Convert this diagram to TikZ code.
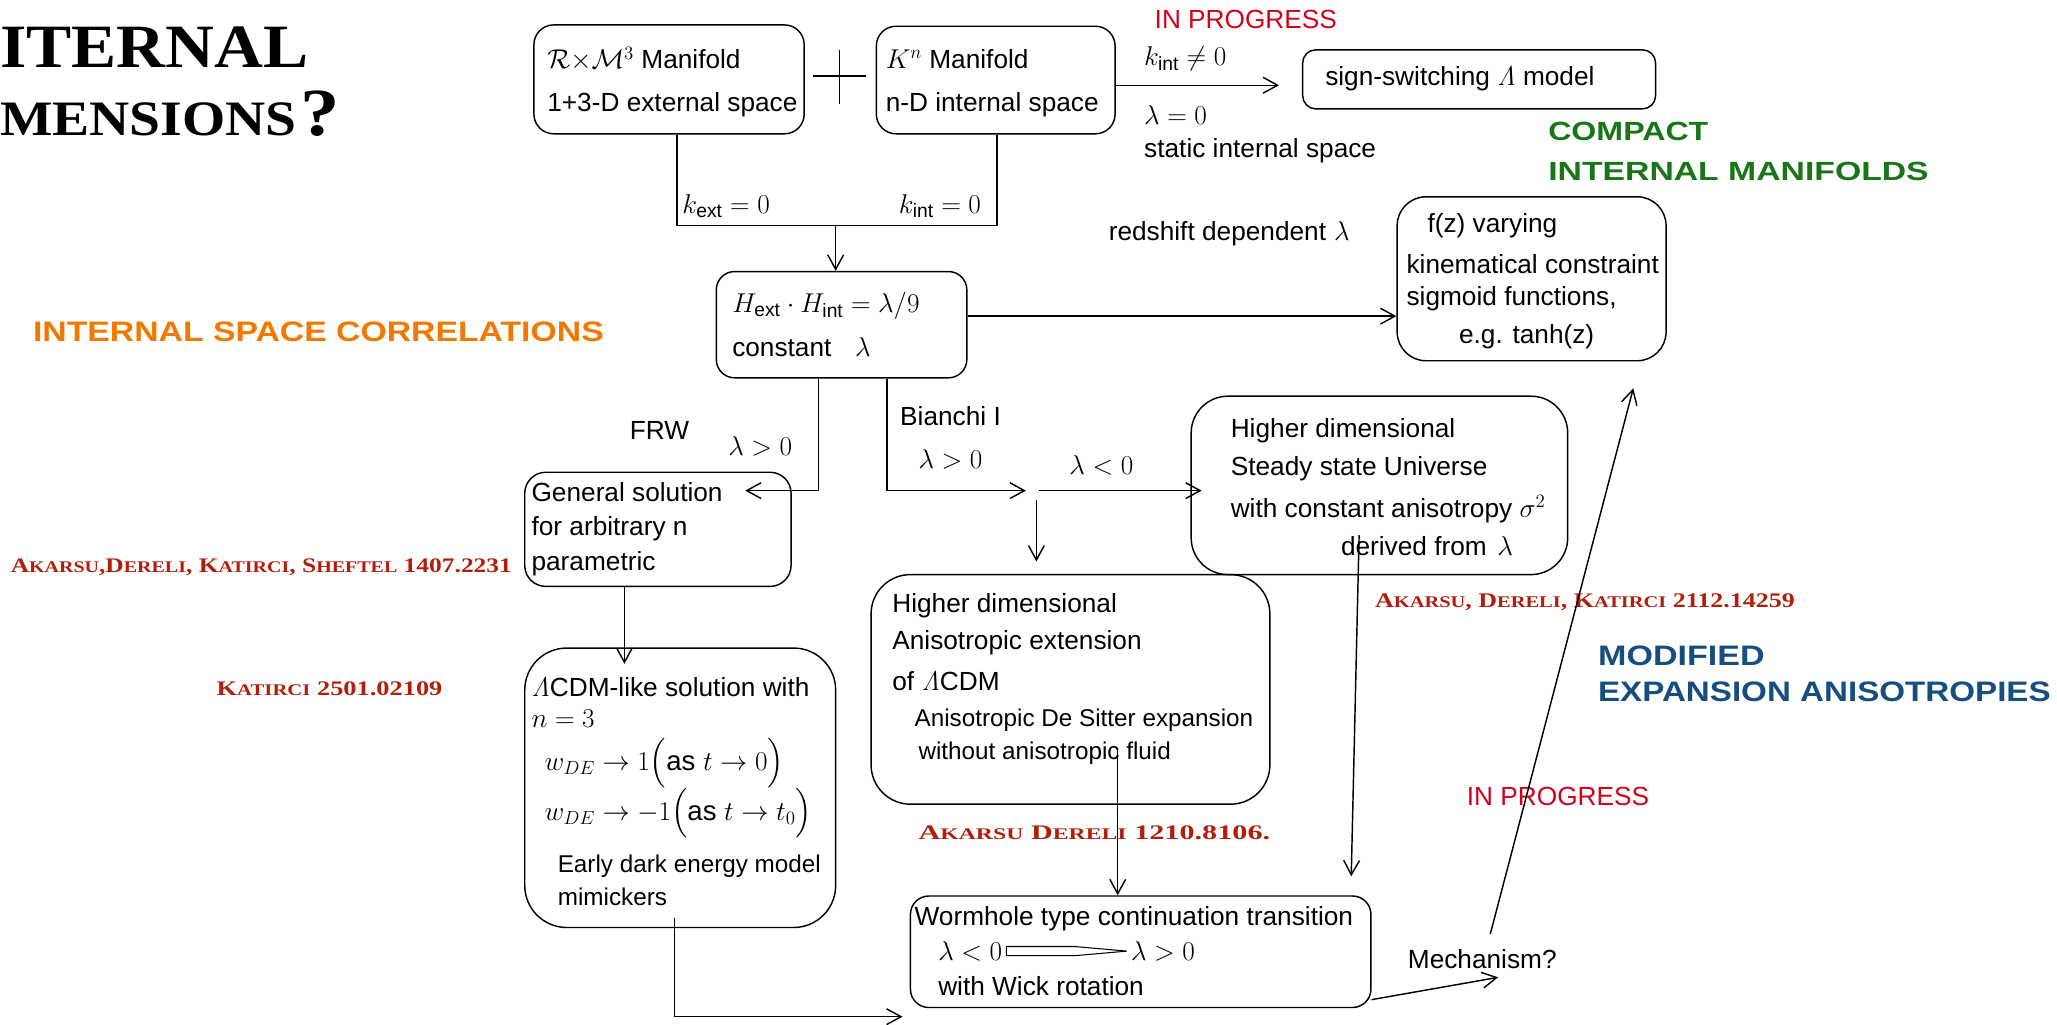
\documentclass[tikz,border=0pt]{standalone}
\usepackage{amsmath,amssymb}
\usepackage[no-math]{fontspec}
\setmainfont{Liberation Sans}
\newfontfamily\tserif{Liberation Serif}
\usepackage{graphicx}
\usetikzlibrary{arrows.meta,fit,calc}
\definecolor{inprog}{RGB}{208,2,27}
\definecolor{refred}{RGB}{178,30,12}
\definecolor{orangec}{RGB}{240,122,0}
\definecolor{greenc}{RGB}{24,118,24}
\definecolor{bluec}{RGB}{22,78,128}
\newcommand{\smc}[1]{{\fontsize{11}{12}\selectfont #1}}
\tikzset{
  rbox/.style={draw, line width=1.1pt, rounded corners=#1, inner sep=0pt},
  t/.style={anchor=west, inner sep=0pt, font=\fontsize{20}{24}\selectfont},
  ts/.style={anchor=west, inner sep=0pt, font=\fontsize{18.5}{22}\selectfont},
  tm/.style={anchor=west, inner sep=0pt, font=\fontsize{21}{25}\selectfont},
  hd/.style={anchor=west, inner sep=0pt},
  ref/.style={anchor=west, inner sep=0pt, text=refred},
  ln/.style={line width=1.1pt},
  arr/.style={line width=1.1pt, -{Straight Barb[length=11pt,width=12pt,line width=1.1pt]}}
}
\begin{document}
\begin{tikzpicture}[x=1pt,y=-1pt]
\useasboundingbox (0,0) rectangle (1568,781);

% title
\node[anchor=south west, inner sep=0pt] (t1) at (0,52) {\resizebox{235pt}{31pt}{\tserif\bfseries ITERNAL}};
\node[anchor=south west, inner sep=0pt] (t2) at (0,104) {\resizebox{226pt}{25pt}{\tserif\bfseries MENSIONS}\hspace{3pt}\resizebox{30pt}{34pt}{\tserif\bfseries ?}};

% headings
\node[hd, text=orangec] (isc) at (25,253) {\resizebox{435pt}{15pt}{\bfseries INTERNAL SPACE CORRELATIONS}};
\node[hd, text=greenc] (cmp1) at (1180,100) {\resizebox{122pt}{14pt}{\bfseries COMPACT}};
\node[hd, text=greenc] (cmp2) at (1180,131) {\resizebox{290pt}{14pt}{\bfseries INTERNAL MANIFOLDS}};
\node[hd, text=bluec] (mod1) at (1218,500) {\resizebox{127pt}{15pt}{\bfseries MODIFIED}};
\node[hd, text=bluec] (mod2) at (1218,527) {\resizebox{345pt}{15pt}{\bfseries EXPANSION ANISOTROPIES}};

% references
\node[ref] (r1) at (8,432) {\resizebox{382pt}{10.5pt}{\tserif\bfseries\fontsize{14}{16}\selectfont A\smc{KARSU},D\smc{ERELI}, K\smc{ATIRCI}, S\smc{HEFTEL} 1407.2231}};
\node[ref] (r2) at (165,525) {\resizebox{172pt}{10.5pt}{\tserif\bfseries\fontsize{14}{16}\selectfont K\smc{ATIRCI} 2501.02109}};
\node[ref] (r3) at (1048,459) {\resizebox{320pt}{10.5pt}{\tserif\bfseries\fontsize{14}{16}\selectfont A\smc{KARSU}, D\smc{ERELI}, K\smc{ATIRCI} 2112.14259}};
\node[ref] (r4) at (700,635) {\resizebox{268pt}{10.5pt}{\tserif\bfseries\fontsize{14}{16}\selectfont A\smc{KARSU} D\smc{ERELI} 1210.8106.}};

% in progress
\node[t, text=inprog] (ip1) at (880,15) {IN PROGRESS};
\node[t, text=inprog] (ip2) at (1118,607) {IN PROGRESS};

% boxes
\node[rbox=15, fit={(407,19)(613,102)}] (A) {};
\node[rbox=15, fit={(668,20)(850,102)}] (B) {};
\node[rbox=10, fit={(993,38)(1262,83)}] (C) {};
\node[rbox=14, fit={(546,207)(737,288)}] (D) {};
\node[rbox=22, fit={(1065,150)(1270,275)}] (E) {};
\node[rbox=16, fit={(400,360)(603,447)}] (F) {};
\node[rbox=28, fit={(908,302)(1195,438)}] (G) {};
\node[rbox=30, fit={(664,438)(968,613)}] (H) {};
\node[rbox=32, fit={(400,494)(637,707)}] (I) {};
\node[rbox=14, fit={(694,683)(1045,768)}] (J) {};

% plus sign
\coordinate (pl) at (620,58); \coordinate (pr) at (660,58);
\coordinate (pt) at (640,38); \coordinate (pb) at (640,79);
\draw[ln] (pl) -- (pr); \draw[ln] (pt) -- (pb);

% box texts
\node[t] (a1) at (417,45) {$\mathcal{R}{\times}\mathcal{M}^3$ Manifold};
\node[t] (a2) at (417,80) {1+3-D external space};
\node[t] (b1) at (675,45) {$K^n$ Manifold};
\node[t] (b2) at (675,80) {n-D internal space};
\node[t] (c1) at (1010,60) {sign-switching $\mathit{\Lambda}$ model};
\node[tm] (d1t) at (558,233) {$H_{\text{ext}}\cdot H_{\text{int}}=\lambda/9$};
\node[t] (d2t) at (558,265) {constant\hspace{18pt}$\lambda$};
\node[t] (e1) at (1088,172) {f(z) varying};
\node[t] (e2) at (1072,201) {kinematical constraint};
\node[t] (e3) at (1072,228) {sigmoid functions,};
\node[t] (e4) at (1112,257) {e.g. tanh(z)};
\node[t] (f1t) at (405,375) {General solution};
\node[t] (f2t) at (405,403) {for arbitrary n};
\node[t] (f3t) at (405,430) {parametric};
\node[t] (g1t) at (938,328) {Higher dimensional};
\node[t] (g2t) at (938,357) {Steady state Universe};
\node[t] (g3t) at (938,388) {with constant anisotropy $\sigma^2$};
\node[t] (g4t) at (1022,416) {derived from\hspace{8pt}$\lambda$};
\node[t] (h1t) at (680,462) {Higher dimensional};
\node[t] (h2t) at (680,490) {Anisotropic extension};
\node[t] (h3t) at (680,519) {of $\mathit{\Lambda}$CDM};
\node[ts] (h4t) at (697,549) {Anisotropic De Sitter expansion};
\node[ts] (h5t) at (700,574) {without anisotropic fluid};
\node[t] (i1t) at (405,524) {$\mathit{\Lambda}$CDM-like solution with};
\node[tm] (i2t) at (405,548) {$n=3$};
\node[tm] (i3t) at (415,582) {$w_{DE}\to 1\Big(\text{as }t\to 0\Big)$};
\node[tm] (i4t) at (415,620) {$w_{DE}\to -1\Big(\text{as }t\to t_0\Big)$};
\node[ts] (i5t) at (425,660) {Early dark energy model};
\node[ts] (i6t) at (425,684) {mimickers};
\node[t] (j1t) at (697,700) {Wormhole type continuation transition};
\node[tm] (w1) at (715,725) {$\lambda<0$};
\node[tm] (w2) at (862,725) {$\lambda>0$};
\node[t] (j3t) at (715,752) {with Wick rotation};
\draw[line width=0.8pt] ($(w1.east)+(3,-3.5)$) -- ++(52,0) -- ($(w2.west)+(-3,0)$) -- ($(w1.east)+(55,3.5)$) -- ++(-52,0) -- cycle;

% free labels
\node[tm] (kin) at (872,45) {$k_{\text{int}}\neq 0$};
\node[tm] (lz) at (872,88) {$\lambda=0$};
\node[t] (sis) at (872,115) {static internal space};
\node[tm] (kext) at (520,157) {$k_{\text{ext}}=0$};
\node[tm] (kint) at (685,157) {$k_{\text{int}}=0$};
\node[t] (rsd) at (845,178) {redshift dependent\hspace{6pt}$\lambda$};
\node[t] (frw) at (480,328) {FRW};
\node[tm] (l1) at (555,340) {$\lambda>0$};
\node[t] (bia) at (686,317) {Bianchi I};
\node[tm] (l2) at (700,350) {$\lambda>0$};
\node[tm] (l3) at (815,355) {$\lambda<0$};
\node[t] (mech) at (1073,731) {Mechanism?};

% connectors
\coordinate (ka) at (516,172); \coordinate (kb) at (760,172); \coordinate (kc) at (637,172);
\draw[ln] (A.south -| ka) -- (ka) -- (kb) -- (B.south -| kb);
\draw[arr] (kc) -- (D.north -| kc);

\coordinate (bc) at (850,65); \coordinate (cend) at (975,65);
\draw[arr] (B.east |- bc) -- (cend);

\coordinate (de) at (737,241);
\draw[arr] (D.east |- de) -- (E.west |- de);

\coordinate (dl) at (624,374); \coordinate (fend) at (568,374);
\draw[arr] (D.south -| dl) -- (dl) -- (fend);

\coordinate (dr) at (676,374); \coordinate (bj) at (782,374);
\draw[arr] (D.south -| dr) -- (dr) -- (bj);

\coordinate (bj2) at (792,374); \coordinate (gend) at (916,374);
\draw[arr] (bj2) -- (gend);

\coordinate (bj3) at (790,381); \coordinate (hend) at (790,428);
\draw[arr] (bj3) -- (hend);

\coordinate (iend) at (476,506);
\draw[arr] (F.south -| iend) -- (iend);

\coordinate (i1) at (514,700); \coordinate (i2) at (514,775); \coordinate (jend) at (688,775);
\draw[arr] (i1) -- (i2) -- (jend);

\coordinate (h1) at (852,572);
\draw[arr] (h1) -- (J.north -| h1);

\coordinate (g1) at (1036,408); \coordinate (g2) at (1030,668);
\draw[arr] (g1) -- (g2);

\coordinate (j1) at (1045,762); \coordinate (mend) at (1142,745);
\draw[arr] (J.east |- j1) -- (mend);

\coordinate (m1) at (1136,712); \coordinate (eend) at (1245,296);
\draw[arr] (m1) -- (eend);
\end{tikzpicture}
\end{document}
